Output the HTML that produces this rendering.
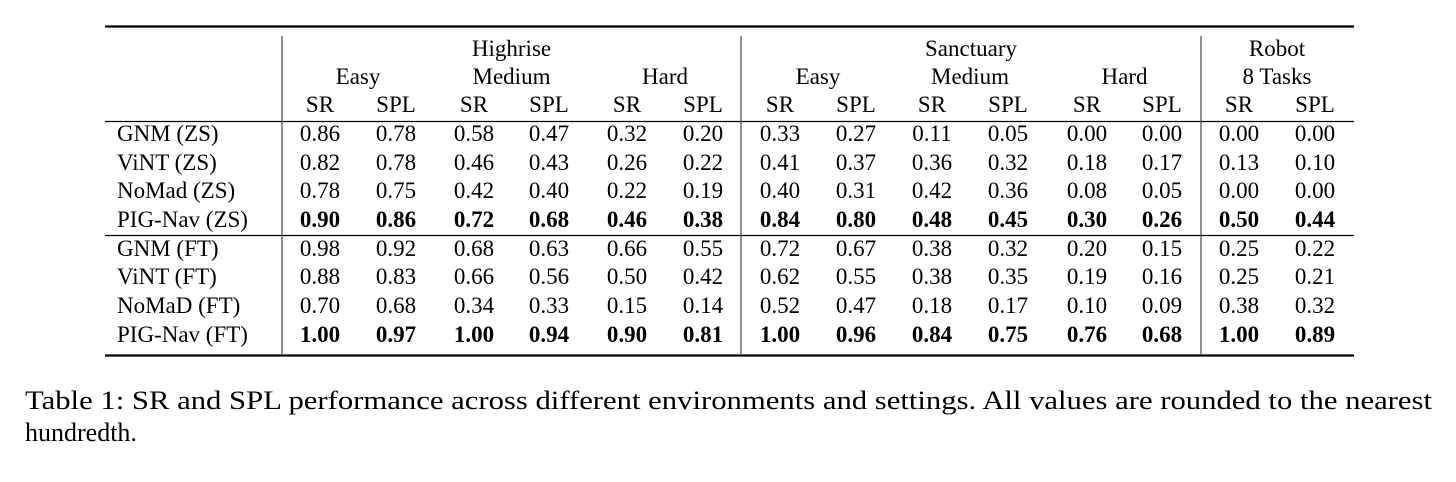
<!DOCTYPE html>
<html><head><meta charset="utf-8"><style>
body{margin:0;background:#fff;}
svg{display:block;font-family:"Liberation Serif",serif;}
</style></head><body>
<svg id="t" width="1456" height="482" viewBox="0 0 1456 482" xmlns="http://www.w3.org/2000/svg">
<rect width="1456" height="482" fill="#fff"/>
<line x1="105" x2="1354" y1="26.5" y2="26.5" stroke="#000" stroke-width="2.2"/>
<line x1="105" x2="1354" y1="121.5" y2="121.5" stroke="#000" stroke-width="1.2"/>
<line x1="105" x2="1354" y1="235.5" y2="235.5" stroke="#000" stroke-width="1.2"/>
<line x1="105" x2="1354" y1="355.5" y2="355.5" stroke="#000" stroke-width="2.2"/>
<line x1="282" x2="282" y1="36" y2="355" stroke="#555" stroke-width="1.3"/>
<line x1="741" x2="741" y1="36" y2="355" stroke="#555" stroke-width="1.3"/>
<line x1="1201" x2="1201" y1="36" y2="355" stroke="#555" stroke-width="1.3"/>
<g id="cells" font-size="23" fill="#000" text-anchor="middle"></g>
<text x="25" y="409" font-size="26" textLength="1407" lengthAdjust="spacingAndGlyphs">Table 1: SR and SPL performance across different environments and settings. All values are rounded to the nearest</text>
<text x="25" y="441" font-size="26">hundredth.</text>
</svg>
<script>
const methods=["GNM (ZS)","ViNT (ZS)","NoMad (ZS)","PIG-Nav (ZS)","GNM (FT)","ViNT (FT)","NoMaD (FT)","PIG-Nav (FT)"];
const values=[
["0.86","0.78","0.58","0.47","0.32","0.20","0.33","0.27","0.11","0.05","0.00","0.00","0.00","0.00"],
["0.82","0.78","0.46","0.43","0.26","0.22","0.41","0.37","0.36","0.32","0.18","0.17","0.13","0.10"],
["0.78","0.75","0.42","0.40","0.22","0.19","0.40","0.31","0.42","0.36","0.08","0.05","0.00","0.00"],
["0.90","0.86","0.72","0.68","0.46","0.38","0.84","0.80","0.48","0.45","0.30","0.26","0.50","0.44"],
["0.98","0.92","0.68","0.63","0.66","0.55","0.72","0.67","0.38","0.32","0.20","0.15","0.25","0.22"],
["0.88","0.83","0.66","0.56","0.50","0.42","0.62","0.55","0.38","0.35","0.19","0.16","0.25","0.21"],
["0.70","0.68","0.34","0.33","0.15","0.14","0.52","0.47","0.18","0.17","0.10","0.09","0.38","0.32"],
["1.00","0.97","1.00","0.94","0.90","0.81","1.00","0.96","0.84","0.75","0.76","0.68","1.00","0.89"]];
const boldRows=[3,7];
const groups=["Highrise","Sanctuary","Robot"];
const subGroups=["Easy","Medium","Hard","Easy","Medium","Hard","8 Tasks"];
const colX=[320,396,474,549,627,703,780,856,932,1008,1087,1162,1239,1315];
const rowY=[141,170,198,227,256,284,313,342];
const g=document.getElementById('cells');
function txt(s,x,y,name,bold,anchor){
 const e=document.createElementNS('http://www.w3.org/2000/svg','text');
 e.setAttribute('x',x);e.setAttribute('y',y);
 if(bold)e.setAttribute('font-weight','bold');
 if(anchor)e.setAttribute('text-anchor',anchor);
 e.textContent=s;
 
 
 g.appendChild(e);
}
const gx=[(colX[0]+colX[5])/2,(colX[6]+colX[11])/2,(colX[12]+colX[13])/2];
groups.forEach((s,i)=>txt(s,gx[i],56,'group-header',false));
subGroups.forEach((s,i)=>{
 const x=(colX[2*i]+colX[2*i+1])/2;
 const y=(i%3===1||i===6)?84:84;
 txt(s,x,y,'subgroup-header',false);
});
colX.forEach((x,i)=>txt(i%2?"SPL":"SR",x,112,'metric-header',false));
methods.forEach((m,r)=>{
 txt(m,117,rowY[r],'method-label',false,'start');
 values[r].forEach((v,c)=>txt(v,colX[c],rowY[r],'cell-value',boldRows.includes(r)));
});
</script>
</body></html>
